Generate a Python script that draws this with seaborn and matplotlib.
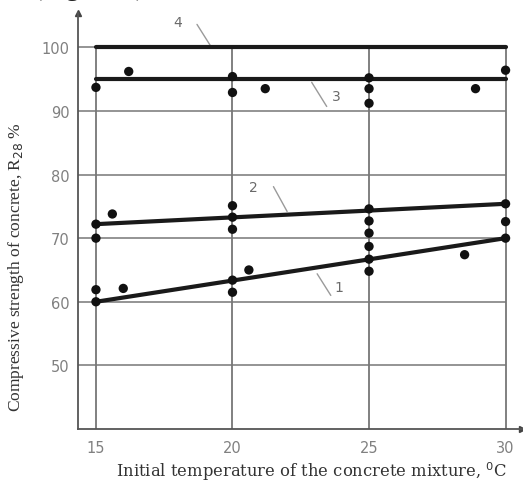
import numpy as np
import pandas as pd
import seaborn as sns
import matplotlib.pyplot as plt

# measured points (temperature, strength %)
pt_temp = [15, 15, 15, 15, 15, 15.6, 16.0, 16.2,
           20, 20, 20, 20, 20, 20, 20, 20.6, 21.2,
           25, 25, 25, 25, 25, 25, 25, 25, 25,
           28.5, 28.9, 30, 30, 30, 30]
pt_strength = [93.7, 72.2, 70.0, 61.9, 60.0, 73.8, 62.1, 96.2,
               95.4, 92.9, 75.1, 73.3, 71.4, 63.4, 61.5, 65.0, 93.5,
               95.2, 93.5, 91.2, 74.6, 72.7, 70.8, 68.7, 66.7, 64.8,
               67.4, 93.5, 96.4, 75.4, 72.6, 70.0]

# trend lines 1..4 (start/end at 15 and 30 degC)
line_ids = ['1', '2', '3', '4']
line_x = [15, 30]
line_start = [60.0, 72.2, 95.0, 100.0]
line_end = [70.0, 75.4, 95.0, 100.0]

# line labels: text position and leader line (from -> to)
lab_pos = {'1': (23.9, 62.3), '2': (20.75, 78.1), '3': (23.8, 92.3), '4': (18.0, 103.9)}
lab_lead = {'1': ((23.1, 64.4), (23.6, 61.0)),
            '2': ((21.5, 78.1), (22.0, 74.2)),
            '3': ((22.9, 94.5), (23.45, 90.7)),
            '4': ((18.7, 103.6), (19.2, 100.2))}

x_ticks = [15, 20, 25, 30]
y_ticks = [50, 60, 70, 80, 90, 100]

points = pd.DataFrame({'t': pt_temp, 'r': pt_strength})
lines = pd.DataFrame({
    't': line_x * len(line_ids),
    'r': [v for s, e in zip(line_start, line_end) for v in (s, e)],
    'id': [i for i in line_ids for _ in line_x],
})

sns.set_style('white')
plt.rcParams['font.family'] = ['Liberation Serif', 'DejaVu Serif']

fig = plt.figure(figsize=(5.23, 4.81), dpi=100)
ax = fig.add_axes([0.149, 0.106, 0.849, 0.865])

xmin, xmax = 14.34, 30.6
ymin, ymax = 40, 105.4
grid_c = '#767676'

# grid
ax.vlines(x_ticks, ymin, 100, color=grid_c, lw=1.3, zorder=1)
ax.hlines(y_ticks, xmin, 30, color=grid_c, lw=1.1, zorder=1)

sns.lineplot(data=lines, x='t', y='r', units='id', estimator=None,
             color='#1a1a1a', lw=3, ax=ax, zorder=3)
sns.scatterplot(data=points, x='t', y='r', color='#111111', s=45,
                edgecolor='none', ax=ax, zorder=4)

for k in line_ids:
    (x0, y0), (x1, y1) = lab_lead[k]
    ax.plot([x0, x1], [y0, y1], color='#9a9a9a', lw=1.0, zorder=2)
    ax.text(*lab_pos[k], k, color='#6a6a6a', fontsize=10,
            family='DejaVu Sans', ha='center', va='center')

ax.set_xlim(xmin, xmax)
ax.set_ylim(ymin, ymax)
ax.set_xticks(x_ticks)
ax.set_yticks(y_ticks)
ax.tick_params(length=0, labelsize=10.5, labelcolor='#808080')
ax.tick_params(axis='x', pad=8)
ax.tick_params(axis='y', pad=6)
for lab in ax.get_xticklabels() + ax.get_yticklabels():
    lab.set_family('DejaVu Sans')

for s in ['top', 'right']:
    ax.spines[s].set_visible(False)
for s in ['left', 'bottom']:
    ax.spines[s].set_color('#555555')
    ax.spines[s].set_linewidth(1.3)
ax.plot(1, 0, '>', color='#444444', ms=4, transform=ax.transAxes, clip_on=False)
ax.plot(0, 1, '^', color='#444444', ms=4, transform=ax.transAxes, clip_on=False)

ax.set_xlabel('Initial temperature of the concrete mixture, $^{0}$C',
              fontsize=11.8, color='#333333', family='DejaVu Serif')
ax.set_ylabel('Compressive strength of concrete, R$_{28}$ %',
              fontsize=12.5, color='#333333')
ax.xaxis.set_label_coords(0.527, -0.073)
ax.yaxis.set_label_coords(-0.118, 0.392)

# caption above the chart, mostly cut off as in the source image
fig.text(0.063, 1.01, '(Figure 3)', fontsize=20, va='baseline', color='#222222')

fig.savefig('out.png', dpi=100)
